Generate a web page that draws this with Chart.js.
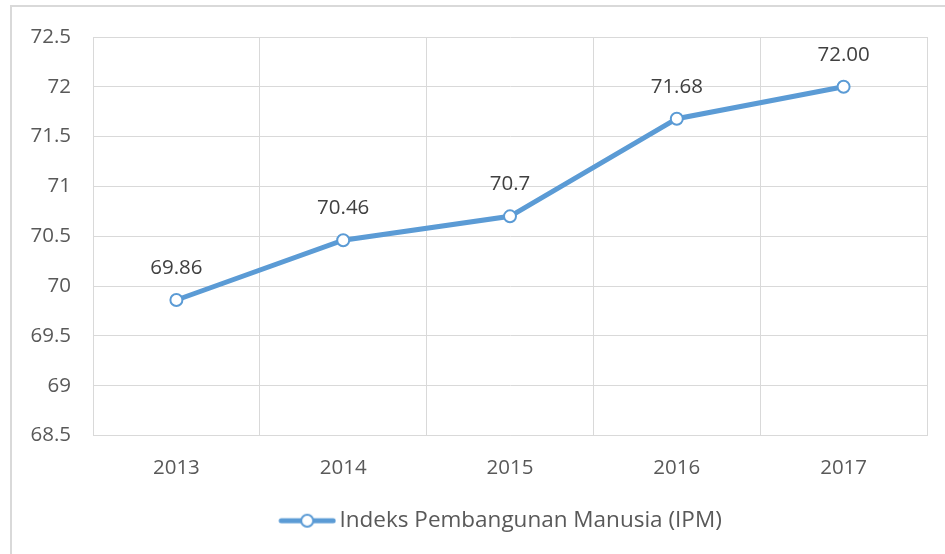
<!DOCTYPE html>
<html lang="id">
<head>
<meta charset="UTF-8">
<title>IPM</title>
<script src="https://cdn.jsdelivr.net/npm/chart.js"></script>
<style>
  body { margin: 0; background: #fff; }
  #wrap { width: 945px; height: 554px; }
</style>
</head>
<body>
<div id="wrap"><canvas id="grafik"></canvas></div>
<script>
const tahun = ['2013', '2014', '2015', '2016', '2017'];
const nilaiIPM = [69.86, 70.46, 70.7, 71.68, 72.00];
const labelNilai = ['69.86', '70.46', '70.7', '71.68', '72.00'];
const tickY = [68.5, 69, 69.5, 70, 70.5, 71, 71.5, 72, 72.5];

const biru = '#5B9BD5';
const abu = '#d9d9d9';
const huruf = '"Open Sans", sans-serif';

// legend symbol: line with open circle (drawn at the right edge of a wider canvas)
const ikon = document.createElement('canvas');
ikon.width = 139; ikon.height = 16;
const ic = ikon.getContext('2d');
ic.strokeStyle = biru; ic.lineWidth = 5; ic.lineCap = 'round';
ic.beginPath(); ic.moveTo(84, 8); ic.lineTo(136, 8); ic.stroke();
ic.fillStyle = '#fff'; ic.lineWidth = 2;
ic.beginPath(); ic.arc(110, 8, 6, 0, Math.PI * 2); ic.fill(); ic.stroke();

const bingkai = {
  id: 'bingkai',
  beforeDraw(chart) {
    const c = chart.ctx;
    c.save();
    c.strokeStyle = abu; c.lineWidth = 2;
    c.strokeRect(11, 6, 960, 600);
    c.restore();
  }
};

const labelData = {
  id: 'labelData',
  afterDatasetsDraw(chart) {
    const c = chart.ctx;
    const meta = chart.getDatasetMeta(0);
    c.save();
    c.font = '20.5px ' + huruf;
    c.fillStyle = '#404040';
    c.textAlign = 'center';
    c.textBaseline = 'middle';
    meta.data.forEach((p, i) => {
      c.fillText(labelNilai[i], p.x, p.y - 32);
    });
    c.restore();
  }
};

new Chart(document.getElementById('grafik'), {
  type: 'line',
  data: {
    labels: tahun,
    datasets: [{
      label: 'Indeks Pembangunan Manusia (IPM)',
      data: nilaiIPM,
      borderColor: biru,
      borderWidth: 5,
      pointRadius: 6,
      pointHoverRadius: 6,
      pointBackgroundColor: '#fff',
      pointBorderColor: biru,
      pointBorderWidth: 2,
      tension: 0
    }]
  },
  options: {
    responsive: true,
    maintainAspectRatio: false,
    animation: false,
    layout: { padding: { top: 37, right: 18, bottom: 12, left: 0 } },
    plugins: {
      legend: {
        position: 'bottom',
        labels: {
          usePointStyle: true,
          pointStyleWidth: 123,
          boxHeight: 16,
          color: '#595959',
          font: { family: huruf, size: 22.5 },
          padding: 4,
          generateLabels(chart) {
            return [{
              text: chart.data.datasets[0].label,
              pointStyle: ikon,
              fontColor: '#595959',
              lineWidth: 0,
              strokeStyle: 'transparent',
              fillStyle: 'transparent',
              datasetIndex: 0
            }];
          }
        }
      },
      tooltip: { enabled: false }
    },
    scales: {
      x: {
        offset: true,
        grid: { color: abu, offset: true, drawTicks: false },
        border: { color: abu },
        ticks: { color: '#595959', font: { family: huruf, size: 20.5 }, padding: 20 },
        afterFit(s) { s.height = 70; }
      },
      y: {
        min: 68.5,
        max: 72.5,
        afterBuildTicks(s) { s.ticks = tickY.map(v => ({ value: v })); },
        grid: { color: abu, drawTicks: false },
        border: { color: abu },
        ticks: {
          color: '#595959',
          font: { family: huruf, size: 20.5 },
          padding: 22,
          callback: v => String(v)
        },
        afterFit(s) { s.width = 93; }
      }
    }
  },
  plugins: [bingkai, labelData]
});
</script>
</body>
</html>
